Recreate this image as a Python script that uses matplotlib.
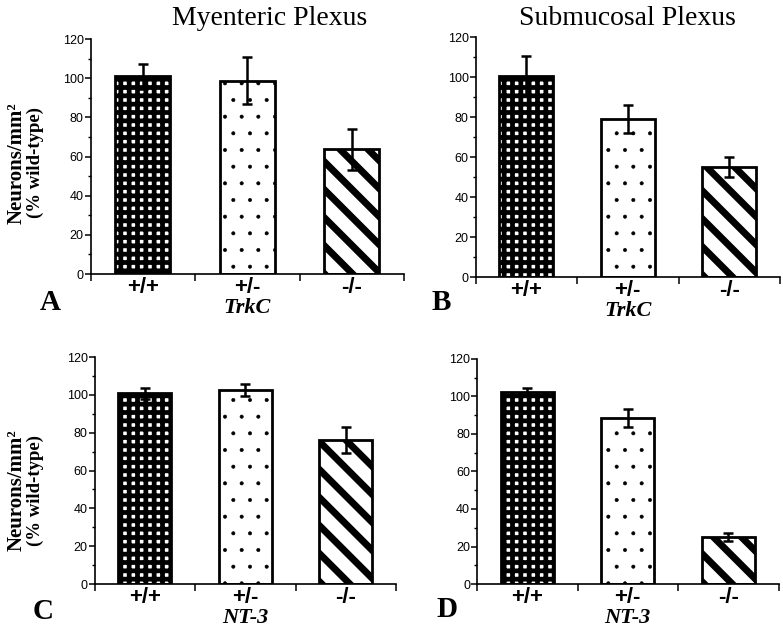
import matplotlib
matplotlib.use('Agg')
import matplotlib.pyplot as plt
import matplotlib.transforms as mtransforms
import numpy as np

plt.rcParams['font.family'] = ['Liberation Sans', 'DejaVu Sans']

# data (% of wild-type)
genotypes = ['+/+', '+/-', '-/-']
myenteric_trkc = [101, 98.7, 63.7]
myenteric_trkc_err = [6.5, 12, 10.5]
submucosal_trkc = [100.7, 78.8, 54.8]
submucosal_trkc_err = [10, 7, 5]
myenteric_nt3 = [100.8, 102.5, 76]
myenteric_nt3_err = [3, 3.2, 7]
submucosal_nt3 = [102.4, 88.5, 25.2]
submucosal_nt3_err = [2.2, 5, 2.2]

fig = plt.figure(figsize=(7.83, 6.33), dpi=100)

# axes positions in figure fractions
positions = {
    'A': [0.1156, 0.5671, 0.4004, 0.3712],
    'B': [0.6073, 0.5624, 0.3889, 0.3791],
    'C': [0.1207, 0.0774, 0.3851, 0.3586],
    'D': [0.6092, 0.0774, 0.3851, 0.3555],
}
panels = [
    ('A', myenteric_trkc, myenteric_trkc_err, 'TrkC'),
    ('B', submucosal_trkc, submucosal_trkc_err, 'TrkC'),
    ('C', myenteric_nt3, myenteric_nt3_err, 'NT-3'),
    ('D', submucosal_nt3, submucosal_nt3_err, 'NT-3'),
]

hatches = ['++', '.', None]
hatch_lw = [3.4, 0.4, 1.0]


def stripes(ax, patch, period=28, lw=5.0):
    # diagonal black stripes (top-left to bottom-right), clipped to the bar
    bb = patch.get_window_extent()
    x0, y0, x1, y1 = bb.x0, bb.y0, bb.x1, bb.y1
    w = x1 - x0
    for c in np.arange(y0 - w - period, y1 + w + period, period):
        ln = ax.plot([x0 - 5, x1 + 5], [c + 5, c - w - 5],
                     color='black', lw=lw, solid_capstyle='butt',
                     transform=mtransforms.IdentityTransform(), zorder=2.5)[0]
        ln.set_clip_path(patch)


for letter, vals, errs, gene in panels:
    ax = fig.add_axes(positions[letter])
    x = np.arange(len(genotypes))
    bars = ax.bar(x, vals, width=0.53, color='white', edgecolor='black',
                  linewidth=2, zorder=2)
    for b, h, hl in zip(bars, hatches, hatch_lw):
        if h is not None:
            b.set_hatch(h)
        if hasattr(b, 'set_hatch_linewidth'):
            b.set_hatch_linewidth(hl)
    ax.errorbar(x, vals, yerr=errs, fmt='none', ecolor='black',
                elinewidth=1.8, capsize=3.5, capthick=1.8, zorder=4)

    ax.set_xlim(-0.5, 2.5)
    ax.set_ylim(0, 120)
    for s in ['top', 'right']:
        ax.spines[s].set_visible(False)
    ax.spines['left'].set_linewidth(1.2)
    ax.spines['bottom'].set_linewidth(1.2)

    ax.set_yticks(np.arange(0, 121, 20))
    ax.set_yticks(np.arange(10, 120, 20), minor=True)
    ax.tick_params(axis='y', which='major', direction='out', length=4,
                   width=1.1, labelsize=9, pad=1)
    ax.tick_params(axis='y', which='minor', direction='out', length=2.5,
                   width=1.0)

    ax.set_xticks([-0.5, 0.5, 1.5, 2.5])
    ax.set_xticklabels([])
    ax.set_xticks(x, minor=True)
    ax.set_xticklabels(genotypes, minor=True, fontsize=16, fontweight='bold')
    ax.tick_params(axis='x', which='major', direction='out', length=5,
                   width=1.1)
    ax.tick_params(axis='x', which='minor', length=0, pad=2)
    ax.set_xlabel(gene, family='Liberation Serif', fontsize=16,
                  fontweight='bold', fontstyle='italic', labelpad=0)

    stripes(ax, bars[2])

# panel letters
letter_pos = {'A': (40, 310), 'B': (432, 310), 'C': (33, 619), 'D': (436, 617)}
for k, (px, py) in letter_pos.items():
    fig.text(px / 783, 1 - py / 633, k, family='Liberation Serif',
             fontsize=21, fontweight='bold', ha='left', va='baseline')

# column titles
fig.text(270 / 783, 1 - 25 / 633, 'Myenteric Plexus', family='Liberation Serif',
         fontsize=20, ha='center', va='baseline')
fig.text(627 / 783, 1 - 25 / 633, 'Submucosal Plexus', family='Liberation Serif',
         fontsize=20, ha='center', va='baseline')

# y labels (two stacked lines, rotated)
for yc in [163, 490]:
    fig.text(17 / 783, 1 - yc / 633, 'Neurons/mm²', family='Liberation Serif',
             fontsize=15, fontweight='bold', rotation=90, ha='center', va='center')
    fig.text(35 / 783, 1 - yc / 633, '(% wild-type)', family='Liberation Serif',
             fontsize=13.5, fontweight='bold', rotation=90, ha='center', va='center')

fig.savefig('out.png', dpi=100)
